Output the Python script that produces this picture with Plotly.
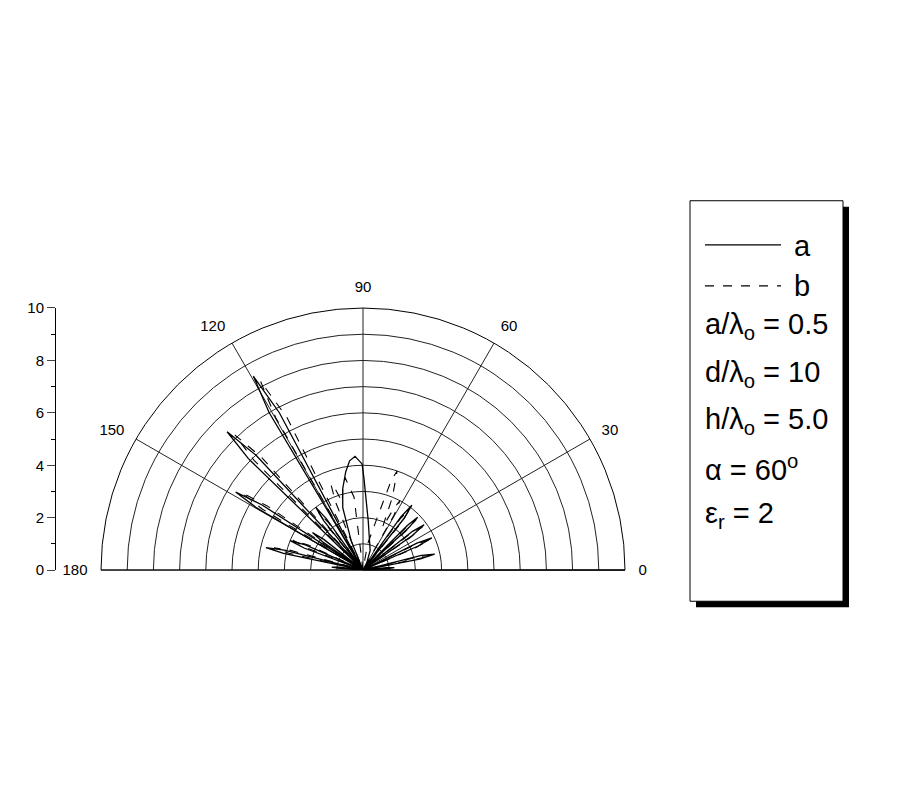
import plotly.graph_objects as go

# ---------------- data ----------------
# series a (solid line): angle in degrees, radius
a_theta = [0, 3, 4.5, 6, 8,
           11, 12.5, 14, 18,
           23.5, 25, 26.5, 31,
           35, 36.5, 38, 40.5,
           42.8, 44, 45.2, 48.5,
           51.5, 53, 54.5, 58,
           62, 70, 84, 89.4, 90.5, 94, 97, 100, 104, 108, 112, 114,
           118, 119.5, 120.8, 123,
           125.5, 127, 128.5, 130.5,
           133, 134.5, 135.8, 138,
           142, 143.5, 145, 146,
           147.2, 148.5, 149.7, 152,
           156.5, 158, 159.5, 162,
           165.8, 167, 168.2, 171,
           173, 174.5, 176, 178, 180]
a_r = [0, 0.9, 1.2, 0.9, 0,
       2.2, 2.8, 2.3, 0,
       2.3, 2.9, 2.3, 0,
       2.3, 2.9, 2.4, 0,
       2.4, 2.9, 2.4, 0,
       2.5, 3.1, 2.5, 0,
       0.3, 0.8, 1.9, 3.5, 4.05, 4.35, 4.2, 3.8, 3.2, 2.5, 1.2, 0,
       6.8, 8.5, 7.0, 0,
       2.4, 3.0, 2.4, 0,
       6.0, 7.4, 6.1, 0,
       1.9, 2.4, 1.9, 0,
       4.6, 5.7, 4.7, 0,
       2.4, 3.0, 2.4, 0,
       3.1, 3.8, 3.1, 0,
       0.9, 1.2, 0.9, 0, 0]

# series b (dashed line)
b_theta = [0,
           11.5, 12, 13.5, 17,
           23, 24.5, 26, 30,
           34.5, 36, 37.5, 40,
           42.3, 43.5, 44.7, 48,
           51, 52.5, 54, 57,
           60.5, 62, 63.5, 65.5, 68, 71, 72.5, 75, 80, 85,
           90, 97, 101, 104, 107, 109, 110.5, 112, 114,
           116.5, 118.5, 119.8, 122,
           126, 127.5, 129, 130,
           132, 133.5, 134.8, 137,
           146.2, 147.5, 148.8, 151,
           155.5, 157, 158.5, 161,
           164.8, 166, 167.2, 170, 180]
b_r = [0,
       2.1, 2.7, 2.2, 0,
       2.2, 2.8, 2.2, 0,
       2.2, 2.8, 2.3, 0,
       2.3, 2.8, 2.3, 0,
       2.4, 2.9, 2.4, 0,
       2.4, 3.0, 2.6, 1.8, 3.0, 4.0, 3.6, 2.0, 1.0, 0,
       0, 2.8, 3.6, 3.2, 2.7, 3.3, 3.5, 2.8, 0,
       6.5, 8.2, 6.7, 0,
       2.2, 2.8, 2.2, 0,
       5.8, 7.1, 5.9, 0,
       4.4, 5.5, 4.5, 0,
       2.3, 2.9, 2.3, 0,
       2.9, 3.5, 2.9, 0, 0]

angle_ticks = [0, 30, 60, 90, 120, 150, 180]
angle_labels = ["0", "30", "60", "90", "120", "150", "180"]
left_ticks = [0, 2, 4, 6, 8, 10]

legend_lines = ["a/λ<sub>o</sub> = 0.5", "d/λ<sub>o</sub> = 10",
                "h/λ<sub>o</sub> = 5.0", "α = 60<sup>o</sup>",
                "ε<sub>r</sub> = 2"]

# ---------------- layout geometry (screen pixels) ----------------
W, H = 900, 800
OX, OY, EH = 8.0, 16.5, 782.0   # observed page offset / effective height
cx, cy, R = 363, 569, 262


def px(x):
    return (x - OX) / W


def py(y):
    return 1 - (y - OY) / EH


FONT = "Liberation Sans, Arial, sans-serif"

fig = go.Figure()
fig.add_trace(go.Scatterpolar(theta=a_theta, r=a_r, mode="lines",
                              line=dict(color="black", width=1.3),
                              name="a", showlegend=False, hoverinfo="skip"))
fig.add_trace(go.Scatterpolar(theta=b_theta, r=b_r, mode="lines",
                              line=dict(color="black", width=1.1, dash="dash"),
                              name="b", showlegend=False, hoverinfo="skip"))
# carrier trace for the left linear axis
fig.add_trace(go.Scatter(x=[0, 0], y=[0, 10], mode="lines",
                         line=dict(width=0, color="rgba(0,0,0,0)"),
                         showlegend=False, hoverinfo="skip"))

fig.update_layout(
    width=W, height=H,
    margin=dict(l=0, r=0, t=0, b=0),
    paper_bgcolor="white", plot_bgcolor="white",
    font=dict(family=FONT, color="black"),
    polar=dict(
        domain=dict(x=[px(cx - R), px(cx + R)], y=[py(cy), py(cy - R)]),
        sector=[0, 180],
        bgcolor="white",
        radialaxis=dict(range=[0, 10], dtick=1, showticklabels=False,
                        ticks="", showline=True, linecolor="black",
                        linewidth=1, gridcolor="#222", gridwidth=0.8),
        angularaxis=dict(rotation=0, direction="counterclockwise",
                         tickvals=angle_ticks, ticktext=angle_labels,
                         ticks="outside", ticklen=10,
                         tickcolor="rgba(0,0,0,0)",
                         showline=True, linecolor="black",
                         linewidth=1, gridcolor="#222", gridwidth=0.8,
                         tickfont=dict(size=15, family=FONT, color="black")),
    ),
    xaxis=dict(domain=[0.0, 0.05], visible=False, range=[-1, 1]),
    yaxis=dict(domain=[py(cy), py(cy - R)], range=[0, 10], anchor="free",
               position=px(55), tickvals=left_ticks, ticks="outside",
               ticklen=8, tickwidth=1, showline=True, linecolor="black",
               linewidth=1, showgrid=False, zeroline=False,
               tickfont=dict(size=15, family=FONT, color="black"),
               minor=dict(dtick=1, ticks="outside", ticklen=4,
                          tickcolor="black")),
)

# legend / parameter box with drop shadow
shapes = [
    dict(type="rect", xref="paper", yref="paper",
         x0=px(696), x1=px(849), y0=py(606), y1=py(206),
         fillcolor="black", line=dict(width=0)),
    dict(type="rect", xref="paper", yref="paper",
         x0=px(690), x1=px(843), y0=py(600), y1=py(200),
         fillcolor="white", line=dict(color="black", width=1)),
    dict(type="line", xref="paper", yref="paper",
         x0=px(705), x1=px(781), y0=py(244), y1=py(244),
         line=dict(color="black", width=1.2)),
    dict(type="line", xref="paper", yref="paper",
         x0=px(705), x1=px(781), y0=py(285), y1=py(285),
         line=dict(color="black", width=1.2, dash="dash")),
]
fig.update_layout(shapes=shapes)

ann = [
    dict(text="a", x=px(792), y=py(245)),
    dict(text="b", x=px(792), y=py(285)),
]
ys = [325, 373, 420, 467, 514]
for t, yy in zip(legend_lines, ys):
    ann.append(dict(text=t, x=px(703), y=py(yy)))
for a_ in ann:
    a_.update(xref="paper", yref="paper", xanchor="left", yanchor="middle",
              showarrow=False, font=dict(size=29, family=FONT, color="black"))
fig.update_layout(annotations=ann)

fig.write_html("out.html")
